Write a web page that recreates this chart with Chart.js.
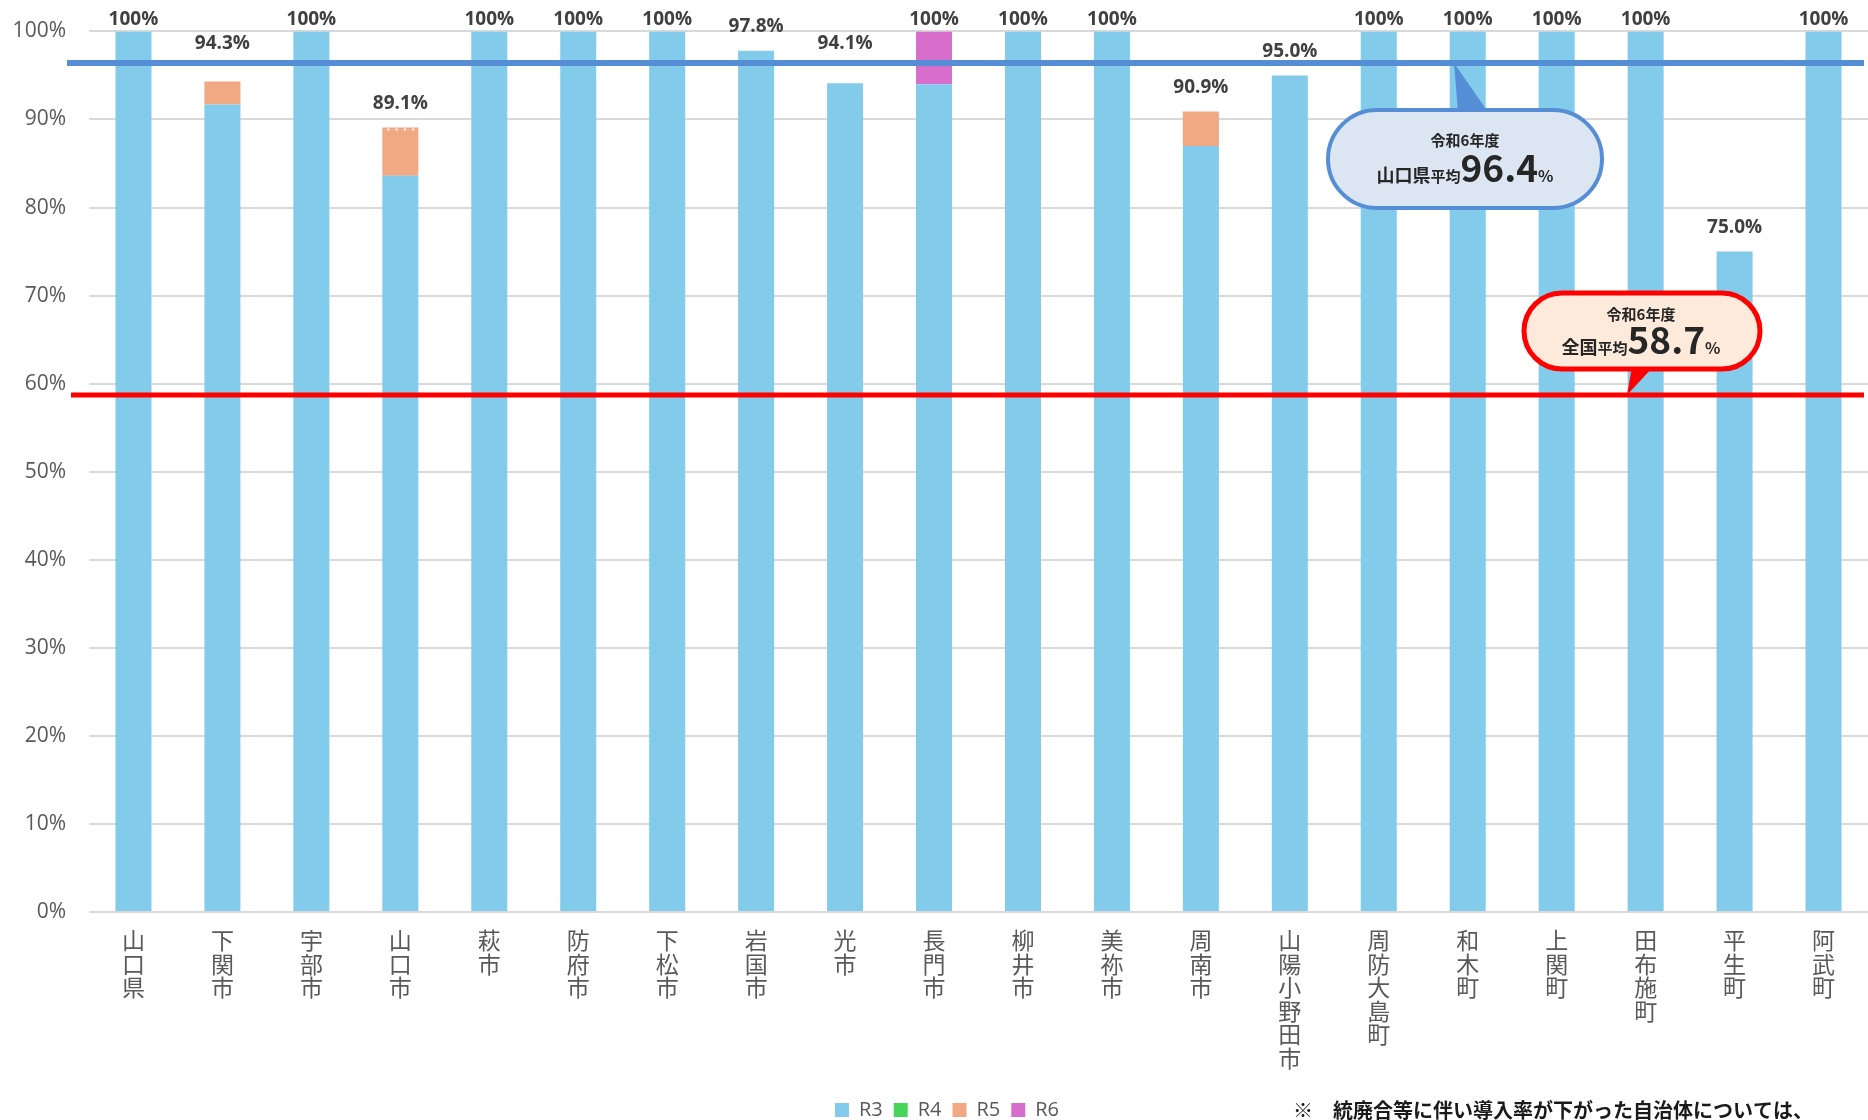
<!DOCTYPE html>
<html lang="ja">
<head>
<meta charset="utf-8">
<script src="https://cdn.jsdelivr.net/npm/chart.js@4.4.1/dist/chart.umd.min.js"></script>
<style>
  html, body { margin: 0; padding: 0; background: #fff; }
</style>
</head>
<body>
<canvas id="myChart" width="1868" height="1120"></canvas>
<script>
// municipalities ------------------------------------------------------
const cities = ['山口県', '下関市', '宇部市', '山口市', '萩市', '防府市', '下松市', '岩国市', '光市', '長門市',
  '柳井市', '美祢市', '周南市', '山陽小野田市', '周防大島町', '和木町', '上関町', '田布施町', '平生町', '阿武町'];

// introduction rate by year (%), stacked
const r3 = [100, 91.7, 100, 83.6, 100, 100, 100, 97.8, 94.1, 94.0, 100, 100, 87.0, 95.0, 100, 100, 100, 100, 75.0, 100];
const r4 = [0, 0, 0, 0, 0, 0, 0, 0, 0, 0, 0, 0, 0, 0, 0, 0, 0, 0, 0, 0];
const r5 = [0, 2.6, 0, 5.5, 0, 0, 0, 0, 0, 0, 0, 0, 3.9, 0, 0, 0, 0, 0, 0, 0];
const r6 = [0, 0, 0, 0, 0, 0, 0, 0, 0, 6.0, 0, 0, 0, 0, 0, 0, 0, 0, 0, 0];

// municipalities whose rate went down after mergers etc.
const decreased = ['山口市'];

const yTicks = [0, 10, 20, 30, 40, 50, 60, 70, 80, 90, 100];

const prefAvg = 96.4;   // 山口県平均
const natAvg = 58.7;    // 全国平均
const yearLabel = '令和6年度';
const footNote = '※　統廃合等に伴い導入率が下がった自治体については、';

// totals for the labels above each stack
const totals = r3.map((v, i) => Math.round((v + r4[i] + r5[i] + r6[i]) * 10) / 10);
const fmt = v => v === 100 ? '100%' : v.toFixed(1) + '%';

const LATIN = '"Open Sans", "Noto Sans CJK JP", sans-serif';
const CJK = '"Noto Sans CJK JP", sans-serif';

// rounded "pill" box
function pill(ctx, x0, y0, x1, y1, fill, stroke, lw) {
  const r = (y1 - y0) / 2;
  ctx.beginPath();
  ctx.moveTo(x0 + r, y0);
  ctx.lineTo(x1 - r, y0);
  ctx.arc(x1 - r, y0 + r, r, -Math.PI / 2, Math.PI / 2);
  ctx.lineTo(x0 + r, y1);
  ctx.arc(x0 + r, y0 + r, r, Math.PI / 2, Math.PI * 1.5);
  ctx.closePath();
  ctx.fillStyle = fill;
  ctx.fill();
  ctx.lineWidth = lw;
  ctx.strokeStyle = stroke;
  ctx.stroke();
}

// text made of runs with different sizes, centred on cx
function runs(ctx, parts, cx, baseline) {
  let w = 0;
  parts.forEach(p => { ctx.font = p[1]; w += ctx.measureText(p[0]).width; });
  let x = cx - w / 2;
  ctx.textAlign = 'left';
  ctx.textBaseline = 'alphabetic';
  parts.forEach(p => {
    ctx.font = p[1];
    ctx.fillText(p[0], x, baseline);
    x += ctx.measureText(p[0]).width;
  });
}

function callout(ctx, c) {
  pill(ctx, c.box[0], c.box[1], c.box[2], c.box[3], c.fill, c.stroke, c.lw);
  ctx.beginPath();
  ctx.moveTo(c.tail[0][0], c.tail[0][1]);
  ctx.lineTo(c.tail[1][0], c.tail[1][1]);
  ctx.lineTo(c.tail[2][0], c.tail[2][1]);
  ctx.closePath();
  ctx.fillStyle = c.stroke;
  ctx.fill();

  ctx.fillStyle = '#262626';
  ctx.font = 'bold 15px ' + CJK;
  ctx.textAlign = 'center';
  ctx.textBaseline = 'middle';
  ctx.fillText(yearLabel, c.cx, c.y1);
  runs(ctx, [
    [c.name, 'bold 18px ' + CJK],
    ['平均', 'bold 15px ' + CJK],
    [c.value.toFixed(1), 'bold 37px ' + CJK],
    ['%', 'bold 16px ' + CJK]
  ], c.cx, c.y2);
}

const overlay = {
  id: 'overlay',
  beforeDraw(chart) {
    // legend sits a little right of the page centre
    chart.legend.left = 26;
  },
  afterDatasetsDraw(chart) {
    const {ctx, scales: {x, y}} = chart;
    const barMeta = chart.getDatasetMeta(0);
    const yp = y.getPixelForValue(prefAvg);
    const yn = y.getPixelForValue(natAvg);
    ctx.save();

    // dotted mark on municipalities with a decrease
    decreased.forEach(name => {
      const i = cities.indexOf(name);
      const bar = barMeta.data[i];
      const top = y.getPixelForValue(totals[i]) + 2;
      ctx.strokeStyle = '#ffffff';
      ctx.lineWidth = 2;
      ctx.setLineDash([2, 6.3]);
      ctx.beginPath();
      ctx.moveTo(bar.x - bar.width / 2 + 5, top);
      ctx.lineTo(bar.x + bar.width / 2, top);
      ctx.stroke();
      ctx.setLineDash([]);
    });

    // totals above stacks (moved above the average line when they would sit on it)
    ctx.font = 'bold 19px ' + LATIN;
    ctx.fillStyle = '#404040';
    ctx.textAlign = 'center';
    ctx.textBaseline = 'middle';
    totals.forEach((v, i) => {
      const px = x.getPixelForValue(i);
      let ty = y.getPixelForValue(v) - 24;
      if (ty + 7.5 > yp - 3 && ty - 7.5 < yp + 3) ty = yp - 20;
      ctx.fillText(fmt(v), px, Math.max(ty, 20));
    });

    // average lines
    ctx.lineWidth = 6;
    ctx.strokeStyle = '#558ED5';
    ctx.beginPath();
    ctx.moveTo(67, yp);
    ctx.lineTo(1864, yp);
    ctx.stroke();

    ctx.lineWidth = 5;
    ctx.strokeStyle = '#FF0000';
    ctx.beginPath();
    ctx.moveTo(71, yn);
    ctx.lineTo(1864, yn);
    ctx.stroke();

    // callouts
    callout(ctx, {
      box: [1328, 110, 1602, 208], tail: [[1454, yp], [1458, 112], [1488, 112]],
      fill: '#DCE6F2', stroke: '#558ED5', lw: 4,
      name: '山口県', value: prefAvg, cx: 1465, y1: 140, y2: 182
    });
    callout(ctx, {
      box: [1524, 293, 1760, 369], tail: [[1632, 367], [1653, 367], [1627, yn]],
      fill: '#FDEADA', stroke: '#FF0000', lw: 5,
      name: '全国', value: natAvg, cx: 1641, y1: 314, y2: 354
    });

    // foot note
    ctx.font = 'bold 20px ' + CJK;
    ctx.fillStyle = '#1a1a1a';
    ctx.textAlign = 'left';
    ctx.textBaseline = 'middle';
    ctx.fillText(footNote, 1293, 1110);

    ctx.restore();
  }
};

const colors = ['#83CBEB', '#47D45A', '#F1A983', '#D86ECC'];
const series = [r3, r4, r5, r6];
const names = ['R3', 'R4', 'R5', 'R6'];

const datasets = series.map((data, k) => ({
  label: names[k],
  data: data,
  backgroundColor: colors[k],
  borderWidth: 0,
  stack: 'rate',
  categoryPercentage: 1,
  barPercentage: 0.405
}));

const ctx = document.getElementById('myChart').getContext('2d');
const myChart = new Chart(ctx, {
  type: 'bar',
  data: {
    labels: cities.map(c => c.split('')),
    datasets: datasets
  },
  plugins: [overlay],
  options: {
    responsive: false,
    animation: false,
    layout: { padding: { top: 30, right: 0, left: 0, bottom: -10 } },
    plugins: {
      tooltip: { enabled: false },
      legend: {
        position: 'bottom',
        labels: {
          boxWidth: 14,
          boxHeight: 14,
          padding: 11,
          color: '#595959',
          font: { family: LATIN, size: 20 }
        }
      }
    },
    scales: {
      x: {
        stacked: true,
        grid: { display: false },
        border: { display: false },
        ticks: {
          color: '#595959',
          font: { family: CJK, size: 23, lineHeight: 1.02 },
          padding: 9,
          autoSkip: false,
          maxRotation: 0
        },
        afterFit(scale) { scale.height = 177; }
      },
      y: {
        stacked: true,
        min: 0,
        max: 100,
        afterBuildTicks(scale) { scale.ticks = yTicks.map(v => ({ value: v })); },
        grid: { color: '#D9D9D9', lineWidth: 2, drawTicks: false },
        border: { display: false },
        ticks: {
          color: '#595959',
          font: { family: LATIN, size: 21, lineHeight: 0.8 },
          padding: 23,
          callback: v => v + '%'
        },
        afterFit(scale) { scale.width = 89; }
      }
    }
  }
});
</script>
</body>
</html>
